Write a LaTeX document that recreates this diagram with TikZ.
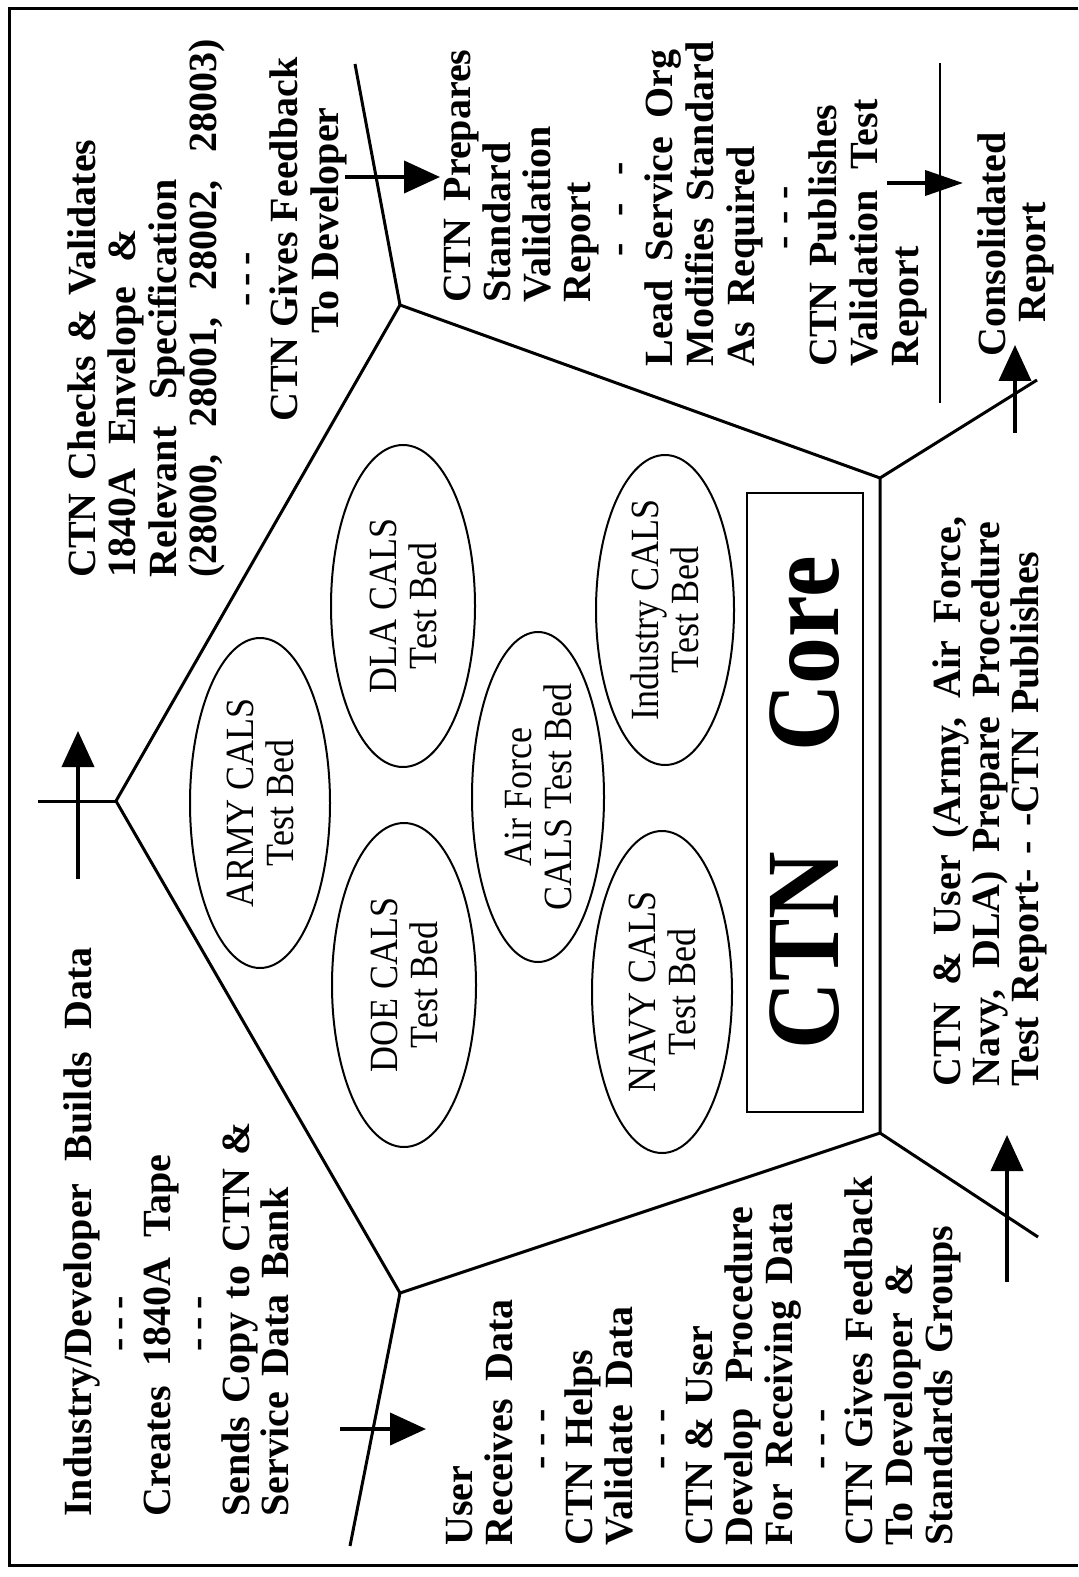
\documentclass[tikz,border=0pt]{standalone}
\usepackage{fontspec}
\setmainfont{Liberation Serif}
\newfontfamily\narrowserif[FakeStretch=0.9]{Liberation Serif}
\usetikzlibrary{shapes.geometric,arrows.meta}

\newcommand{\wline}[2]{\makebox[#1][s]{\spaceskip=0.2em plus 1fil minus 0.1em\relax #2}}
\newcommand{\dashes}[2]{\hspace*{#1}\wline{#2}{- - -}}
\newcommand{\capstrut}{\rule{0pt}{15pt}}

\begin{document}
\begin{tikzpicture}[x=0.5pt,y=-0.5pt,
  edge/.style={line width=1.5pt},
  flow/.style={line width=2pt,-{Triangle[length=18pt,width=16pt]}},
  txt/.style={rotate=90,anchor=north west,inner sep=0pt,align=left,
    font=\bfseries\fontsize{20}{20}\selectfont},
  bed/.style={draw,ellipse,line width=1pt,rotate=90,inner sep=0pt},
  bedtxt/.style={rotate=90,inner sep=0pt,align=center,font=\narrowserif\fontsize{20}{20}\selectfont}]

\useasboundingbox (0,0) rectangle (1078,1577);

% frame
\draw[edge] (1078,9) -- (9,9) -- (9,1565) -- (1078,1565);

% corners of the core
\coordinate (A) at (400,305);
\coordinate (E) at (880,478);
\coordinate (D) at (880,1133);
\coordinate (C) at (400,1293);
\coordinate (B) at (116,801);
\coordinate (a1) at (355,64);
\coordinate (e1) at (1037,380);
\coordinate (d1) at (1038,1237);
\coordinate (c1) at (350,1546);
\coordinate (b1) at (38,801);

\draw[edge] (A) -- (E) -- (D) -- (C) -- (B) -- cycle;
\draw[edge] (A) -- (a1);
\draw[edge] (E) -- (e1);
\draw[edge] (D) -- (d1);
\draw[edge] (C) -- (c1);
\draw[edge] (B) -- (b1);
\draw[line width=1pt] (940,63) -- (940,403);

% arrows
\coordinate (t1) at (345,177);  \coordinate (t2) at (440,177);
\coordinate (l1) at (78,879);   \coordinate (l2) at (78,731);
\coordinate (bl1) at (340,1429); \coordinate (bl2) at (426,1429);
\coordinate (br1) at (1007,1282); \coordinate (br2) at (1007,1135);
\coordinate (r1) at (1015,433); \coordinate (r2) at (1015,345);
\coordinate (tr1) at (887,183); \coordinate (tr2) at (963,183);

\draw[flow] (t1) -- (t2);
\draw[flow] (l1) -- (l2);
\draw[flow] (bl1) -- (bl2);
\draw[flow] (br1) -- (br2);
\draw[flow] (r1) -- (r2);
\draw[line width=2pt,-{Triangle[length=19pt,width=12.5pt]}] (tr1) -- (tr2);

% test beds
\node[bed,minimum width=165pt,minimum height=70pt] (army) at (260,803) {};
\node[bed,minimum width=161pt,minimum height=72pt] (dla) at (403,606) {};
\node[bed,minimum width=162pt,minimum height=72pt] (doe) at (404,985) {};
\node[bed,minimum width=165pt,minimum height=66pt] (air) at (538,797) {};
\node[bed,minimum width=155pt,minimum height=69pt] (ind) at (665,610) {};
\node[bed,minimum width=161pt,minimum height=70pt] (navy) at (662,992) {};

\node[bedtxt] (armyt) at (army) {ARMY CALS\\Test Bed};
\node[bedtxt] (dlat) at (dla) {DLA CALS\\Test Bed};
\node[bedtxt] (doet) at (doe) {DOE CALS\\Test Bed};
\node[bedtxt] (airt) at (air) {Air Force\\CALS Test Bed};
\node[bedtxt] (indt) at (ind) {Industry CALS\\Test Bed};
\node[bedtxt] (navyt) at (navy) {NAVY CALS\\Test Bed};

\node[draw,line width=1pt,rotate=90,inner sep=0pt,minimum width=309.5pt,minimum height=58pt,
  font=\narrowserif\bfseries\fontsize{52}{52}\selectfont] (core) at (805,802.5) {CTN\hspace{50pt}Core};

% steps round the core
\node[txt,font=\bfseries\fontsize{20}{20.25}\selectfont] (checks) at (65,578)
  {\capstrut\wline{219pt}{CTN Checks \& Validates}\\
   \wline{174pt}{1840A Envelope \&}\\
   \wline{199pt}{Relevant Specification}\\
   \wline{269pt}{(28000, 28001, 28002, 28003)}\\
   \dashes{135.5pt}{27pt}\\
   \hspace*{78pt}\wline{182pt}{CTN Gives Feedback}\\
   \hspace*{122pt}To Developer};

\node[txt,font=\bfseries\fontsize{20}{19.75}\selectfont] (builds) at (61,1517)
  {\capstrut\wline{284.5pt}{Industry/Developer Builds Data}\\
   \dashes{82.5pt}{27.5pt}\\
   \wline{181pt}{Creates 1840A Tape}\\
   \dashes{82.5pt}{27.5pt}\\
   \wline{197.5pt}{Sends Copy to CTN \&}\\
   \wline{164.5pt}{Service Data Bank}};

\node[txt] (user) at (442,1546)
  {\capstrut User\\
   \wline{123pt}{Receives Data}\\
   \dashes{38pt}{30pt}\\
   \wline{98pt}{CTN Helps}\\
   \wline{119.5pt}{Validate Data}\\
   \dashes{38pt}{30pt}\\
   \wline{110pt}{CTN \& User}\\
   \wline{169.5pt}{Develop Procedure}\\
   \wline{171.5pt}{For Receiving Data}\\
   \dashes{38pt}{30pt}\\
   \wline{184.5pt}{CTN Gives Feedback}\\
   \wline{141pt}{To Developer \&}\\
   \wline{160pt}{Standards Groups}};

\node[txt] (prepares) at (440,303)
  {\capstrut\wline{126.5pt}{CTN Prepares}\\
   Standard\\
   Validation\\
   Report\\
   \dashes{23pt}{47pt}};

\node[txt,font=\bfseries\fontsize{20}{20.5}\selectfont] (lead) at (642,367)
  {\capstrut\wline{158.5pt}{Lead Service Org}\\
   \wline{162.5pt}{Modifies Standard}\\
   \wline{110pt}{As Required}\\
   \dashes{58.5pt}{31.5pt}\\
   \wline{131pt}{CTN Publishes}\\
   \wline{133.5pt}{Validation Test}\\
   Report};

\node[txt] (consol) at (975,357)
  {\capstrut Consolidated\\
   \hspace*{17pt}Report};

\node[txt,font=\bfseries\fontsize{20}{19.5}\selectfont] (publish) at (930,1087)
  {\capstrut\wline{285pt}{CTN \& User (Army, Air Force,}\\
   \wline{282.5pt}{Navy, DLA) Prepare Procedure}\\
   \wline{267.5pt}{Test Report- - -CTN Publishes}};

\end{tikzpicture}
\end{document}
